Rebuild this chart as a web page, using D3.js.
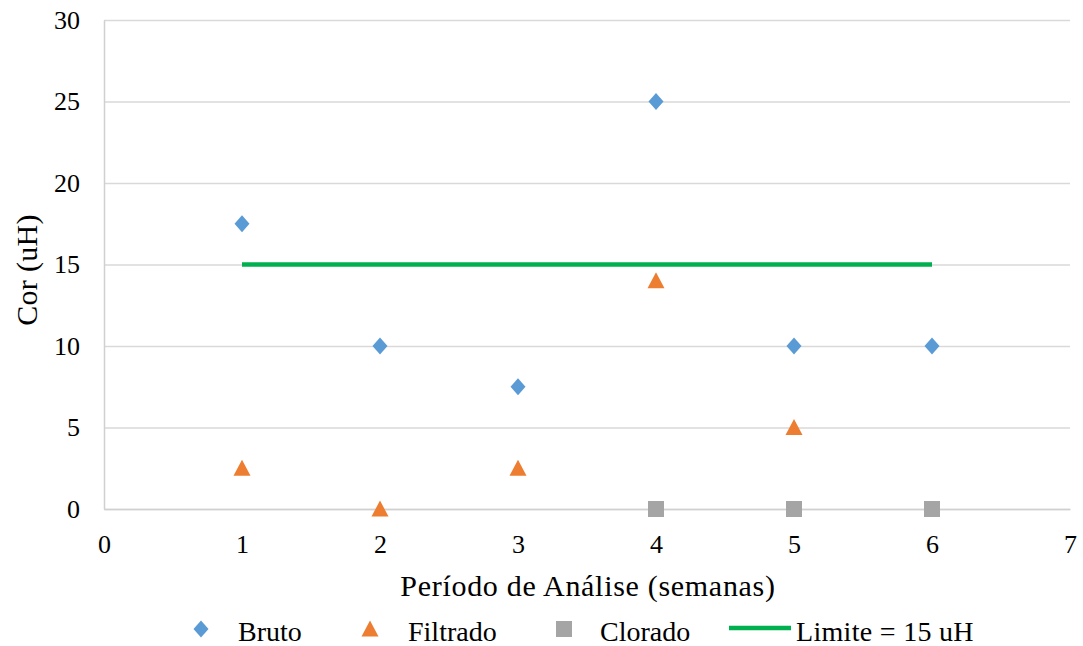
<!DOCTYPE html>
<html lang="en">
<head>
<meta charset="utf-8">
<title>Cor (uH)</title>
<script src="https://d3js.org/d3.v7.min.js"></script>
<style>
  body { margin: 0; background: #fff; }
  text { font-family: "Liberation Serif", "Times New Roman", serif; fill: #000; }
</style>
</head>
<body>
<div id="chart"></div>
<script>
// data
var semanas = [1, 2, 3, 4, 5, 6];
var bruto = [17.5, 10, 7.5, 25, 10, 10];
var filtradoX = [1, 2, 3, 4, 5];
var filtrado = [2.5, 0, 2.5, 14, 5];
var cloradoX = [4, 5, 6];
var clorado = [0, 0, 0];
var limiteX = [1, 6];
var limite = [15, 15];
var xTicks = [0, 1, 2, 3, 4, 5, 6, 7];
var yTicks = [0, 5, 10, 15, 20, 25, 30];

var w = 1083, h = 646;
var pLeft = 104, pRight = 1070, pTop = 20, pBottom = 509;

var svg = d3.select("#chart").append("svg")
  .attr("width", w).attr("height", h);

var x = d3.scaleLinear().domain([0, 7]).range([pLeft, pRight]);
var y = d3.scaleLinear().domain([0, 30]).range([pBottom, pTop]);

// gridlines
svg.append("g")
  .attr("transform", "translate(" + pLeft + ",0)")
  .call(d3.axisLeft(y).tickValues(yTicks).tickSize(-(pRight - pLeft)).tickFormat(""))
  .call(function(g) {
    g.select(".domain").remove();
    g.selectAll("line").attr("stroke", "#d9d9d9").attr("stroke-width", 1.3);
  });

// y axis
svg.append("g")
  .attr("transform", "translate(" + pLeft + ",0)")
  .call(d3.axisLeft(y).tickValues(yTicks).tickSize(0).tickPadding(24).tickFormat(d3.format("d")))
  .call(function(g) {
    g.select(".domain").attr("stroke", "#d0d0d0").attr("stroke-width", 1.5);
    g.selectAll("text").attr("font-size", 26).attr("font-family", "Liberation Serif");
  });

// x axis
svg.append("g")
  .attr("transform", "translate(0," + pBottom + ")")
  .call(d3.axisBottom(x).tickValues(xTicks).tickSize(0).tickPadding(26).tickFormat(d3.format("d")))
  .call(function(g) {
    g.select(".domain").attr("stroke", "#d0d0d0").attr("stroke-width", 1.5);
    g.selectAll("text").attr("font-size", 26).attr("font-family", "Liberation Serif");
  });

// axis titles
svg.append("text")
  .attr("x", 588).attr("y", 596)
  .attr("text-anchor", "middle").attr("font-size", 30).attr("letter-spacing", 0.7)
  .text("Período de Análise (semanas)");

svg.append("text")
  .attr("transform", "translate(37,270) rotate(-90)")
  .attr("text-anchor", "middle").attr("font-size", 30).attr("letter-spacing", 0.3)
  .text("Cor (uH)");

// limit line
svg.append("path")
  .datum(limiteX.map(function(d, i) { return [d, limite[i]]; }))
  .attr("fill", "none").attr("stroke", "#00b050").attr("stroke-width", 4.5)
  .attr("d", d3.line().x(function(d) { return x(d[0]); }).y(function(d) { return y(d[1]); }));

var diamond = "M0,-8.5L7.5,0L0,8.5L-7.5,0Z";
var triangle = "M0,-8.5L8.5,7.5L-8.5,7.5Z";
var square = "M-8,-8L8,-8L8,8L-8,8Z";

svg.append("g").selectAll("path")
  .data(semanas).enter().append("path")
  .attr("d", diamond).attr("fill", "#5b9bd5")
  .attr("transform", function(d, i) { return "translate(" + x(d) + "," + y(bruto[i]) + ")"; });

svg.append("g").selectAll("path")
  .data(filtradoX).enter().append("path")
  .attr("d", triangle).attr("fill", "#ed7d31")
  .attr("transform", function(d, i) { return "translate(" + x(d) + "," + y(filtrado[i]) + ")"; });

svg.append("g").selectAll("path")
  .data(cloradoX).enter().append("path")
  .attr("d", square).attr("fill", "#a5a5a5")
  .attr("transform", function(d, i) { return "translate(" + x(d) + "," + y(clorado[i]) + ")"; });

// legend
var ly = 629;
var legend = svg.append("g").attr("font-size", 28);
legend.append("path").attr("d", diamond).attr("fill", "#5b9bd5").attr("transform", "translate(201," + ly + ")");
legend.append("text").attr("x", 238).attr("y", 641).text("Bruto");
legend.append("path").attr("d", triangle).attr("fill", "#ed7d31").attr("transform", "translate(370," + ly + ")");
legend.append("text").attr("x", 408).attr("y", 641).text("Filtrado");
legend.append("path").attr("d", square).attr("fill", "#a5a5a5").attr("transform", "translate(564," + ly + ")");
legend.append("text").attr("x", 600).attr("y", 641).text("Clorado");
legend.append("line").attr("x1", 729).attr("x2", 791).attr("y1", 628).attr("y2", 628)
  .attr("stroke", "#00b050").attr("stroke-width", 4.5);
legend.append("text").attr("x", 796).attr("y", 641).attr("letter-spacing", 0.3).text("Limite = 15 uH");
</script>
</body>
</html>
